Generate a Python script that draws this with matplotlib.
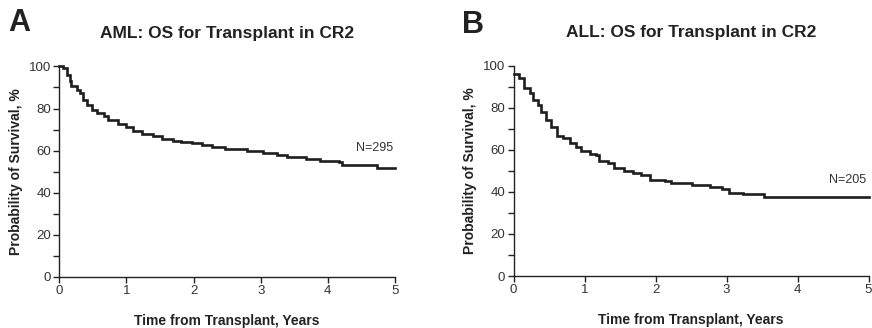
import matplotlib
matplotlib.use("Agg")
import matplotlib.pyplot as plt
from matplotlib.ticker import MultipleLocator

plt.rcParams['font.family'] = ['Liberation Sans', 'DejaVu Sans']

# AML survival (years, %)
aml_t = [0.0, 0.06, 0.11, 0.16, 0.18, 0.26, 0.31, 0.36, 0.41, 0.48, 0.56, 0.66,
         0.73, 0.88, 1.00, 1.10, 1.23, 1.40, 1.53, 1.70, 1.82, 1.97, 2.12, 2.27,
         2.47, 2.79, 3.04, 3.24, 3.39, 3.68, 3.88, 4.16, 4.21, 4.73, 5.0]
aml_s = [100.0, 99.2, 96.0, 92.9, 90.5, 88.9, 87.3, 84.1, 81.8, 79.4, 77.8, 76.2,
         74.6, 72.7, 71.4, 69.4, 67.8, 67.0, 65.4, 64.6, 64.0, 63.5, 62.7, 61.6,
         60.8, 60.0, 58.7, 57.9, 56.8, 56.0, 55.2, 54.4, 52.9, 51.9, 51.9]

# ALL survival (years, %)
all_t = [0.0, 0.08, 0.15, 0.23, 0.27, 0.34, 0.39, 0.46, 0.53, 0.61, 0.69, 0.79,
         0.88, 0.95, 1.07, 1.16, 1.21, 1.33, 1.42, 1.56, 1.68, 1.80, 1.92, 2.13,
         2.22, 2.52, 2.76, 2.94, 3.04, 3.23, 3.53, 5.0]
all_s = [95.9, 94.0, 89.2, 86.9, 83.7, 81.3, 78.1, 74.2, 71.0, 66.6, 65.5, 63.1,
         61.5, 59.4, 58.0, 57.5, 54.7, 53.6, 51.5, 49.9, 48.8, 48.0, 45.6, 45.2,
         44.4, 43.4, 42.5, 41.2, 39.6, 39.0, 37.7, 37.7]

panels = [
    dict(letter="A", title="AML: OS for Transplant in CR2", t=aml_t, s=aml_s,
         n="N=295", ny=61.0, rect=[0.068, 0.1564, 0.385, 0.641]),
    dict(letter="B", title="ALL: OS for Transplant in CR2", t=all_t, s=all_s,
         n="N=205", ny=45.5, rect=[0.589, 0.1585, 0.407, 0.6415]),
]

fig = plt.figure(figsize=(8.72, 3.28), dpi=100)
tick_col = "#333333"
line_col = "#1e1e1e"

for p in panels:
    ax = fig.add_axes(p["rect"])
    ax.plot(p["t"], p["s"], drawstyle="steps-post", color=line_col, lw=1.9,
            solid_joinstyle="miter", clip_on=False)
    ax.set_xlim(0, 5)
    ax.set_ylim(0, 100)
    for sp in ("top", "right"):
        ax.spines[sp].set_visible(False)
    for sp in ("left", "bottom"):
        ax.spines[sp].set_linewidth(1.0)
        ax.spines[sp].set_color("#222222")
    ax.xaxis.set_major_locator(MultipleLocator(1))
    ax.yaxis.set_major_locator(MultipleLocator(20))
    ax.yaxis.set_minor_locator(MultipleLocator(10))
    ax.tick_params(axis="both", which="major", length=4, width=1.0,
                   labelsize=9.5, labelcolor=tick_col, color="#222222", pad=2)
    ax.tick_params(axis="y", which="minor", length=4, width=1.0, color="#222222")
    ax.set_ylabel("Probability of Survival, %", fontsize=10, fontweight="bold",
                  color="#222222", labelpad=4)
    ax.set_xlabel("Time from Transplant, Years", fontsize=10, fontweight="bold",
                  color="#222222", labelpad=12)
    ax.text(4.97, p["ny"], p["n"], ha="right", va="center", fontsize=9,
            color=tick_col)
    ax.set_title(p["title"], fontsize=12.5, fontweight="bold", color="#222222",
                 pad=20.5)

fig.text(0.010, 0.905, "A", fontsize=22, fontweight="bold", color="#222222",
         ha="left", va="baseline")
fig.text(0.530, 0.898, "B", fontsize=22, fontweight="bold", color="#222222",
         ha="left", va="baseline")

fig.savefig("out.png", dpi=100)
